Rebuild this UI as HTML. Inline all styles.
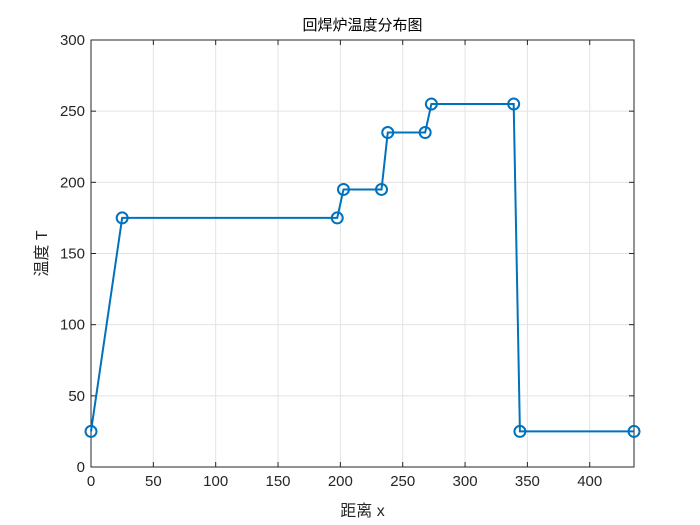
<!DOCTYPE html>
<html><head><meta charset="utf-8"><style>
body{margin:0;background:#fff;width:700px;height:525px;overflow:hidden}
svg{display:block}
text{font-family:"Liberation Sans","Noto Sans CJK SC",sans-serif;}
</style></head><body>
<svg id="chart" width="700" height="525" viewBox="0 0 700 525">
<rect x="0" y="0" width="700" height="525" fill="#fff"/>
<g id="grid"></g>
<g id="axes"></g>
<g id="series"></g>
</svg>
<script>
const xTicks=[0,50,100,150,200,250,300,350,400];
const yTicks=[0,50,100,150,200,250,300];
const distX=[0,25,197.5,202.5,233,238,268,273,339,344,435.5];
const tempY=[25,175,175,195,195,235,235,255,255,25,25];
const xMin=0,xMax=435.5,yMin=0,yMax=300;
const L=91,R=634,T=40,B=467;
const sx=v=>L+(v-xMin)/(xMax-xMin)*(R-L);
const sy=v=>B-(v-yMin)/(yMax-yMin)*(B-T);
const NS="http://www.w3.org/2000/svg";
function mk(tag,attrs,parent){const e=document.createElementNS(NS,tag);for(const k in attrs)e.setAttribute(k,attrs[k]);parent.appendChild(e);return e;}
const grid=document.getElementById('grid'),axes=document.getElementById('axes'),series=document.getElementById('series');
xTicks.forEach(t=>{
  const g=mk('line',{x1:sx(t),x2:sx(t),y1:T,y2:B,stroke:'#e3e3e3','stroke-width':1},grid);
  
  
  mk('line',{x1:sx(t),x2:sx(t),y1:B,y2:B-5,stroke:'#262626'},axes);
  mk('line',{x1:sx(t),x2:sx(t),y1:T,y2:T+5,stroke:'#262626'},axes);
  const lb=mk('text',{x:sx(t),y:B+19,'text-anchor':'middle','font-size':15,fill:'#262626'},axes);
  lb.textContent=t;
  
  
});
yTicks.forEach(t=>{
  const g=mk('line',{x1:L,x2:R,y1:sy(t),y2:sy(t),stroke:'#e3e3e3','stroke-width':1},grid);
  
  
  mk('line',{x1:L,x2:L+5,y1:sy(t),y2:sy(t),stroke:'#262626'},axes);
  mk('line',{x1:R,x2:R-5,y1:sy(t),y2:sy(t),stroke:'#262626'},axes);
  const lb=mk('text',{x:L-6,y:sy(t)+5,'text-anchor':'end','font-size':15,fill:'#262626'},axes);
  lb.textContent=t;
  
  
});
const box=mk('rect',{x:L,y:T,width:R-L,height:B-T,fill:'none',stroke:'#262626','stroke-width':1},axes);


const title=mk('text',{x:(L+R)/2,y:30,'text-anchor':'middle','font-size':15,fill:'#000'},axes);
title.textContent='回焊炉温度分布图';


const xl=mk('text',{x:(L+R)/2,y:516,'text-anchor':'middle','font-size':16,fill:'#262626'},axes);
xl.textContent='距离 x';


const yl=mk('text',{x:0,y:0,'text-anchor':'middle','font-size':16,fill:'#262626',transform:`translate(47,${(T+B)/2}) rotate(-90)`},axes);
yl.textContent='温度 T';


const pts=distX.map((x,i)=>sx(x)+','+sy(tempY[i])).join(' ');
const line=mk('polyline',{points:pts,fill:'none',stroke:'#0072bd','stroke-width':2},series);


distX.forEach((x,i)=>{
  const c=mk('circle',{cx:sx(x),cy:sy(tempY[i]),r:5.5,fill:'none',stroke:'#0072bd','stroke-width':2},series);
  
  
});
</script>
</body></html>
